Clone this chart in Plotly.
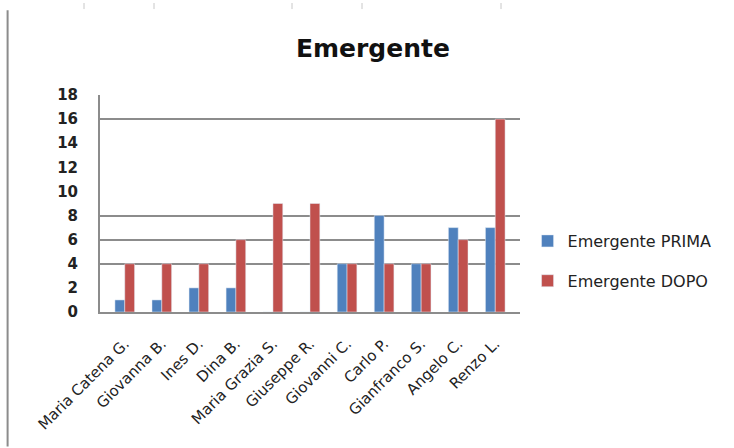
import plotly.graph_objects as go

categories = ["Maria Catena G.", "Giovanna B.", "Ines D.", "Dina B.", "Maria Grazia S.",
              "Giuseppe R.", "Giovanni C.", "Carlo P.", "Gianfranco S.", "Angelo C.", "Renzo L."]
prima = [1, 1, 2, 2, 0, 0, 4, 8, 4, 7, 7]
dopo = [4, 4, 4, 6, 9, 9, 4, 4, 4, 6, 16]
y_ticks = [0, 2, 4, 6, 8, 10, 12, 14, 16, 18]
grid_ticks = [4, 6, 8, 16]

font = "'DejaVu Sans', Verdana, sans-serif"

fig = go.Figure()
fig.add_trace(go.Bar(x=categories, y=prima, name="Emergente PRIMA", marker_color="#4F81BD",
                     legendgroup="a"))
fig.add_trace(go.Bar(x=categories, y=dopo, name="Emergente DOPO", marker_color="#C0504D",
                     legendgroup="b"))
# invisible trace carrying the partial gridlines on an overlaid axis
fig.add_trace(go.Scatter(x=categories, y=prima, yaxis="y2", mode="markers",
                         marker=dict(opacity=0), showlegend=False, hoverinfo="skip"))

fig.update_layout(
    width=734, height=448,
    margin=dict(l=100, r=214, t=95, b=136),
    paper_bgcolor="white", plot_bgcolor="white",
    barmode="group", bargap=0.47, bargroupgap=0,
    title=dict(text="<b>Emergente</b>", x=0.508, xanchor="center", y=0.893, yanchor="middle",
               font=dict(family=font, size=25, color="#111")),
    font=dict(family=font, color="#222"),
    xaxis=dict(showgrid=False, showline=True, linecolor="#8c8c8c", linewidth=2,
               tickangle=-45, tickfont=dict(size=15, color="#222"), ticks="",
               ticklabelstandoff=15),
    yaxis=dict(range=[0, 18], tickvals=y_ticks, showgrid=False, showline=True,
               linecolor="#8c8c8c", linewidth=2, zeroline=False,
               tickfont=dict(size=15, color="#222", family=font, weight="bold"),
               ticklabelstandoff=17, ticks=""),
    yaxis2=dict(range=[0, 18], overlaying="y", tickvals=grid_ticks, showticklabels=False,
                showgrid=True, gridcolor="#8c8c8c", gridwidth=2, zeroline=False, ticks=""),
    legend=dict(x=1.018, xanchor="left", y=0.235, yanchor="middle",
                font=dict(size=16, color="#222"), tracegroupgap=16,
                traceorder="grouped", itemwidth=30),
)

# spreadsheet frame decorations
fig.add_shape(type="line", xref="paper", yref="paper", x0=-0.22, x1=-0.22, y0=-0.62, y1=1.39,
              line=dict(color="#8c8c8c", width=2))
for px in [84, 154, 292, 362, 501]:
    xp = (px - 100) / 420
    fig.add_shape(type="line", xref="paper", yref="paper", x0=xp, x1=xp, y0=1.396, y1=1.424,
                  line=dict(color="#c8c8c8", width=1))

fig.write_html("out.html")
